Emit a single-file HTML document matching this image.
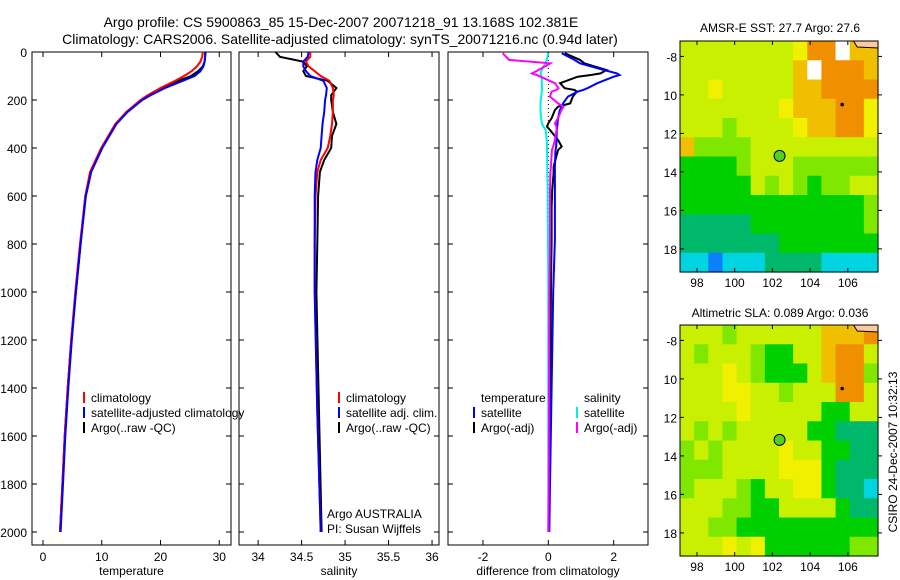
<!DOCTYPE html>
<html><head><meta charset="utf-8">
<style>
html,body{margin:0;padding:0;background:#fff;}
svg{display:block;font-family:"Liberation Sans",sans-serif;}
</style></head>
<body>
<svg id="fig" width="900" height="580" viewBox="0 0 900 580" xmlns="http://www.w3.org/2000/svg">
<text x="341" y="27" font-size="14" text-anchor="middle">Argo profile: CS 5900863_85 15-Dec-2007 20071218_91 13.168S 102.381E</text>
<text x="340" y="44" font-size="14" text-anchor="middle">Climatology: CARS2006. Satellite-adjusted climatology: synTS_20071216.nc (0.94d later)</text>
<text x="780" y="32" font-size="12" text-anchor="middle">AMSR-E SST: 27.7 Argo: 27.6</text>
<text x="780" y="317" font-size="12" text-anchor="middle">Altimetric SLA: 0.089 Argo: 0.036</text>
<text x="0" y="0" font-size="12" text-anchor="middle" transform="translate(897,452) rotate(-90)">CSIRO 24-Dec-2007 10:32:13</text>
<g id="g"></g>
</svg>
<script>
// ---- data ----
const depthTicks=[0,200,400,600,800,1000,1200,1400,1600,1800,2000];
const tempTicks=[0,10,20,30];
const salTicks=[34,34.5,35,35.5,36];
const diffTicks=[-2,0,2];
const lonTicks=[98,100,102,104,106];
const latTicks=[-8,-10,-12,-14,-16,-18];

const tDepth=[0,20,40,60,80,100,120,150,180,200,250,300,400,500,600,800,1000,1200,1400,1600,1800,2000];
const tClim=[27.2,27.1,26.8,26.2,25.3,24.0,22.5,20.0,17.8,16.6,14.2,12.3,9.9,8.0,7.2,6.3,5.5,4.8,4.2,3.7,3.3,2.9];
const tSat=[27.7,27.6,27.5,27.3,26.8,25.8,23.8,20.8,18.3,16.9,14.4,12.5,10.1,8.2,7.3,6.4,5.6,4.9,4.3,3.8,3.4,3.0];
const tArgo=[27.6,27.6,27.5,27.2,26.4,25.2,23.0,20.3,18.0,16.8,14.2,12.4,10.0,8.1,7.2,6.4,5.6,4.8,4.2,3.7,3.3,2.9];

const sDepth=[0,20,40,60,80,100,120,150,180,200,250,300,350,400,450,500,600,800,1000,1500,2000];
const sClim=[34.6,34.6,34.55,34.58,34.65,34.72,34.82,34.86,34.87,34.86,34.86,34.85,34.83,34.8,34.72,34.68,34.66,34.65,34.65,34.68,34.72];
const sSat=[34.58,34.57,34.52,34.52,34.55,34.6,34.75,34.79,34.78,34.77,34.76,34.74,34.73,34.72,34.68,34.66,34.65,34.65,34.65,34.68,34.72];
const sArgo=[34.2,34.25,34.52,34.56,34.52,34.55,34.8,34.9,34.84,34.84,34.86,34.9,34.85,34.84,34.76,34.71,34.69,34.68,34.67,34.7,34.73];

const dDepth=[5,33,47,75,89,96,103,130,151,158,165,186,214,228,242,276,297,311,325,367,394,408,478,505,575,644,783,1000,1400,1800,2000];
const dTempSat=[0.41,0.8,0.97,1.7,2.1,2.18,2.0,1.5,1.2,1.07,0.9,0.6,0.45,0.41,0.35,0.3,0.28,0.27,0.26,0.25,0.24,0.22,0.2,0.2,0.2,0.2,0.2,0.15,0.1,0.05,0.03];
const dTempArgo=[0.5,0.97,1.1,1.78,1.6,1.3,0.9,0.36,0.5,0.8,0.87,0.75,0.67,0.3,0.2,0.1,0.0,-0.04,0.05,0.3,0.41,0.3,0.16,0.16,0.12,0.1,0.1,0.08,0.06,0.04,0.02];
const dSalSat=[0.0,-0.05,-0.1,-0.2,-0.24,-0.22,-0.2,-0.2,-0.19,-0.19,-0.2,-0.22,-0.24,-0.24,-0.24,-0.22,-0.2,-0.15,-0.08,-0.05,-0.04,-0.04,-0.03,-0.03,-0.02,-0.02,-0.01,0.0,0.0,0.0,0.0];
const dSalArgo=[-1.4,-1.2,0.06,-0.3,-0.5,-0.35,-0.24,0.2,0.31,0.25,0.1,0.05,0.3,0.46,0.4,0.3,0.2,0.25,0.25,0.2,0.15,0.11,0.08,0.06,0.05,0.05,0.05,0.03,0.02,0.01,0.0];

// map grids (colour class 0..9), rows from north (-7.2) to south (-19.2)
const sstGrid=["55555555688977","55555555798887","55655555778888","55555556777886","55545555677886","74444555555555","33334555444444","33333545434455","33333333333334","22222333333334","22222223333333","11011122221111"];
const slaGrid=["55545555557778","54555433557885","55565433357884","55566554555885","55556555553355","54545555533222","45455556553322","44455556663222","45554355663221","55544335555322","55443333333333","55565633333344"];

const NS="http://www.w3.org/2000/svg";
const g=document.getElementById('g');
function el(t,a,p){const e=document.createElementNS(NS,t);for(const k in a)e.setAttribute(k,a[k]);(p||g).appendChild(e);return e;}

const Y0=52, PY=0.24, PBOT=545;
const yD=d=>Y0+d*PY;
const panels=[
 {name:'temperature',x0:32,x1:231,v0:-1.87,v1:32.0,ticks:tempTicks,label:'temperature'},
 {name:'salinity',x0:239,x1:439,v0:33.78,v1:36.08,ticks:salTicks,label:'salinity'},
 {name:'difference',x0:448,x1:648,v0:-3.07,v1:3.05,ticks:diffTicks,label:'difference from climatology'}
];
panels.forEach(p=>{p.sx=v=>p.x0+(v-p.v0)/(p.v1-p.v0)*(p.x1-p.x0);});

function drawLine(p,depths,vals,color,name,w){
  const pts=depths.map((d,i)=>p.sx(vals[i]).toFixed(1)+','+yD(d).toFixed(1)).join(' ');
  const l=el('polyline',{points:pts,fill:'none',stroke:color,'stroke-width':w||2});
  
  
}

panels.forEach((p,pi)=>{
  const r=el('rect',{x:p.x0,y:Y0,width:p.x1-p.x0,height:PBOT-Y0,fill:'none',stroke:'#000','stroke-width':1});
  
  
  depthTicks.forEach(d=>{
    el('line',{x1:p.x0,x2:p.x0+5,y1:yD(d),y2:yD(d),stroke:'#000'});
    el('line',{x1:p.x1,x2:p.x1-5,y1:yD(d),y2:yD(d),stroke:'#000'});
    if(pi===0){const t=el('text',{x:27,y:yD(d)+5,'font-size':12,'text-anchor':'end'});t.textContent=d;
      
      }
  });
  p.ticks.forEach(v=>{
    const x=p.sx(v);
    el('line',{x1:x,x2:x,y1:PBOT,y2:PBOT-5,stroke:'#000'});
    el('line',{x1:x,x2:x,y1:Y0,y2:Y0+5,stroke:'#000'});
    const t=el('text',{x:x,y:561,'font-size':12,'text-anchor':'middle'});t.textContent=v;
    
    
  });
  const xt=el('text',{x:(p.x0+p.x1)/2,y:575,'font-size':12,'text-anchor':'middle'});xt.textContent=p.label;
  
  
});

const [P1,P2,P3]=panels;
drawLine(P1,tDepth,tArgo,'#000','temp-argo-line');
drawLine(P1,tDepth,tClim,'#f00','temp-climatology-line');
drawLine(P1,tDepth,tSat,'#00f','temp-satellite-line');
drawLine(P2,sDepth,sArgo,'#000','sal-argo-line');
drawLine(P2,sDepth,sClim,'#f00','sal-climatology-line');
drawLine(P2,sDepth,sSat,'#00f','sal-satellite-line');
el('line',{x1:P3.sx(0),x2:P3.sx(0),y1:Y0,y2:yD(2000),stroke:'#000','stroke-dasharray':'1,3'});
drawLine(P3,dDepth,dTempArgo,'#000','diff-temp-argo-line');
drawLine(P3,dDepth,dTempSat,'#00f','diff-temp-satellite-line');
drawLine(P3,dDepth,dSalSat,'#0ee','diff-sal-satellite-line');
drawLine(P3,dDepth,dSalArgo,'#f0f','diff-sal-argo-line');

function legend(x,y,color,text,name){
  if(color){el('line',{x1:x,x2:x,y1:y-10,y2:y+1,stroke:color,'stroke-width':2});}
  const t=el('text',{x:x+7,y:y,'font-size':12});t.textContent=text;
  
  
}
legend(84,402,'#f00','climatology','legend-temp-climatology');
legend(84,417,'#00f','satellite-adjusted climatology','legend-temp-satellite');
legend(84,432,'#000','Argo(..raw -QC)','legend-temp-argo');
legend(339,402,'#f00','climatology','legend-sal-climatology');
legend(339,417,'#00f','satellite adj. clim.','legend-sal-satellite');
legend(339,432,'#000','Argo(..raw -QC)','legend-sal-argo');
legend(474,402,null,'temperature','legend-diff-temperature-header');
legend(474,417,'#00f','satellite','legend-diff-temp-satellite');
legend(474,432,'#000','Argo(-adj)','legend-diff-temp-argo');
legend(577,402,null,'salinity','legend-diff-salinity-header');
legend(577,417,'#0ee','satellite','legend-diff-sal-satellite');
legend(577,432,'#f0f','Argo(-adj)','legend-diff-sal-argo');
legend(320,518,null,'Argo AUSTRALIA','argo-australia-label');
legend(320,533,null,'PI: Susan Wijffels','pi-label');

// maps
const colors=['#0a80ff','#00d4e0','#00b86a','#00d000','#80e800','#c8f000','#f0f000','#f0c000','#f09000','#ffffff'];
const LON0=97.1,LON1=107.6,LAT0=-7.2,LAT1=-19.2;
function drawMap(top,bottom,grid,name){
  const x0=680,x1=878;
  const sx=lon=>x0+(lon-LON0)/(LON1-LON0)*(x1-x0);
  const sy=lat=>top+(lat-LAT0)/(LAT1-LAT0)*(bottom-top);
  const rows=grid.length, cols=grid[0].length;
  const cw=(x1-x0)/cols, ch=(bottom-top)/rows;
  grid.forEach((row,r)=>{[...row].forEach((c,ci)=>{
    const cell=el('rect',{x:x0+ci*cw,y:top+r*ch,width:cw+0.6,height:ch+0.6,fill:colors[+c]});
    
    
  });});
  el('path',{d:`M${sx(106.3)},${top} L${sx(106.5)},${top+6} L${sx(107.6)},${top+7} L${x1},${top} Z`,fill:'#fcc8a0',stroke:'#000','stroke-width':1});
  el('circle',{cx:sx(105.7),cy:sy(-10.5),r:1.8,fill:'#000'});
  const fr=el('rect',{x:x0,y:top,width:x1-x0,height:bottom-top,fill:'none',stroke:'#000'});
  
  
  const mk=el('circle',{cx:sx(102.38),cy:sy(-13.17),r:5.5,fill:'#50d020',stroke:'#000','stroke-width':1});
  
  
  lonTicks.forEach(v=>{const x=sx(v);
    el('line',{x1:x,x2:x,y1:bottom,y2:bottom-4,stroke:'#000'});el('line',{x1:x,x2:x,y1:top,y2:top+4,stroke:'#000'});
    const t=el('text',{x:x,y:bottom+15,'font-size':12,'text-anchor':'middle'});t.textContent=v;
    
    });
  latTicks.forEach(v=>{const y=sy(v);
    el('line',{x1:x0,x2:x0+4,y1:y,y2:y,stroke:'#000'});el('line',{x1:x1,x2:x1+4,y1:y,y2:y,stroke:'#000'});
    const t=el('text',{x:x0-3,y:y+5,'font-size':12,'text-anchor':'end'});t.textContent=(v===-8?'-8':String(-v));
    
    });
}
drawMap(41,272,sstGrid,'sst-map');
drawMap(325,556,slaGrid,'sla-map');
</script>
</body></html>
